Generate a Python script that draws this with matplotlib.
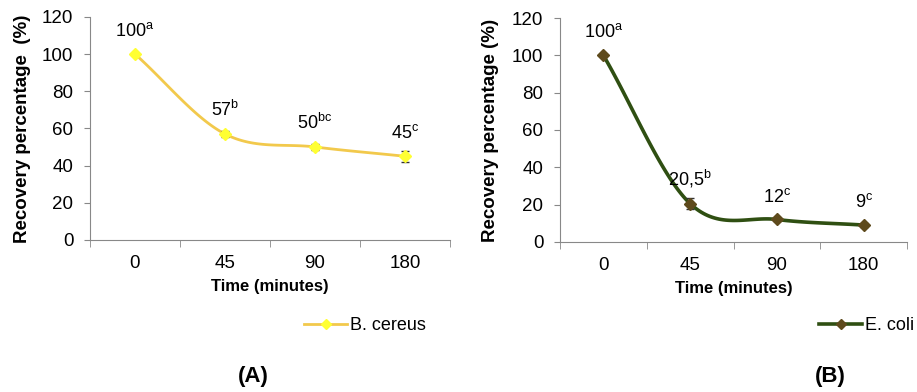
import matplotlib.pyplot as plt
import numpy as np

times = ["0", "45", "90", "180"]

cereus = [100, 57, 50, 45]
cereus_err = [0, 1.5, 1.5, 3]
cereus_lbl = ["100$^{\\mathrm{a}}$", "57$^{\\mathrm{b}}$",
              "50$^{\\mathrm{bc}}$", "45$^{\\mathrm{c}}$"]

coli = [100, 20.5, 12, 9]
coli_err = [0, 3, 1, 1]
coli_lbl = ["100$^{\\mathrm{a}}$", "20,5$^{\\mathrm{b}}$",
            "12$^{\\mathrm{c}}$", "9$^{\\mathrm{c}}$"]

plt.rcParams['font.family'] = ['Liberation Sans', 'DejaVu Sans']
plt.rcParams['mathtext.fontset'] = 'custom'
plt.rcParams['mathtext.rm'] = 'Liberation Sans'


def smooth(xs, ys, n=40):
    # Catmull-Rom curve like the Excel "smoothed line"
    xs = np.asarray(xs, float)
    ys = np.asarray(ys, float)
    px = np.concatenate([[2 * xs[0] - xs[1]], xs, [2 * xs[-1] - xs[-2]]])
    py = np.concatenate([[2 * ys[0] - ys[1]], ys, [2 * ys[-1] - ys[-2]]])
    out_x, out_y = [], []
    t = np.linspace(0, 1, n)
    for i in range(1, len(px) - 2):
        for p, o in ((px, out_x), (py, out_y)):
            p0, p1, p2, p3 = p[i - 1], p[i], p[i + 1], p[i + 2]
            c1 = p1 + (p2 - p0) / 6
            c2 = p2 - (p3 - p1) / 6
            o.extend((1 - t) ** 3 * p1 + 3 * (1 - t) ** 2 * t * c1
                     + 3 * (1 - t) * t ** 2 * c2 + t ** 3 * p2)
    return out_x, out_y


def panel(ax, vals, errs, lbls, line_col, mk_col, lw, name, ylab, leg_pos):
    x = np.arange(len(times))
    sx, sy = smooth(x, vals)
    ax.plot(sx, sy, color=line_col, lw=lw, zorder=2)
    ax.errorbar(x, vals, yerr=errs, fmt='none', ecolor='#333333',
                elinewidth=0.8, capsize=3, zorder=3)
    ax.plot(x, vals, ls='none', marker='D', ms=6, color=mk_col,
            mec=mk_col, zorder=4)
    h, = ax.plot([], [], color=line_col, lw=lw, marker='D', ms=5,
                 mfc=mk_col, mec=mk_col)
    for xi, v, l in zip(x, vals, lbls):
        ax.annotate(l, (xi, v), xytext=(0, 10), textcoords='offset points',
                    ha='center', va='bottom', fontsize=13)
    ax.set_xlim(-0.5, len(times) - 0.5)
    ax.set_ylim(0, 120)
    ax.set_yticks(range(0, 121, 20))
    ax.set_xticks(x)
    ax.set_xticklabels(times)
    ax.set_xticks(np.arange(-0.5, len(times)), minor=True)
    ax.tick_params(axis='x', which='major', length=0, pad=11, labelsize=13.5)
    ax.tick_params(axis='x', which='minor', length=5, color='#888888')
    ax.tick_params(axis='y', length=4, color='#888888', labelsize=13.5, pad=8)
    for s in ('top', 'right'):
        ax.spines[s].set_visible(False)
    for s in ('left', 'bottom'):
        ax.spines[s].set_color('#888888')
    ax.set_xlabel("Time (minutes)", fontweight='bold', fontsize=12,
                  labelpad=5)
    ax.set_ylabel(ylab, fontweight='bold', fontsize=13.5)
    ax.figure.legend([h], [name], loc='center', bbox_to_anchor=leg_pos,
                     frameon=False, fontsize=13, handlelength=2.4,
                     handletextpad=0.15)


fig = plt.figure(figsize=(9.17, 3.92), dpi=100)
ax1 = fig.add_axes([0.0981, 0.388, 0.3926, 0.569])
ax2 = fig.add_axes([0.6107, 0.383, 0.3784, 0.571])

panel(ax1, cereus, cereus_err, cereus_lbl, '#f2c94c', '#ffff33', 2.0,
      "B. cereus", "Recovery percentage  (%)", (0.398, 0.17))
panel(ax2, coli, coli_err, coli_lbl, '#2f4f12', '#5e4a1c', 2.6,
      "E. coli", "Recovery percentage (%)", (0.945, 0.17))

ax1.yaxis.set_label_coords(-0.165, 0.5)
ax2.yaxis.set_label_coords(-0.175, 0.5)

fig.text(0.276, 0.025, "(A)", fontweight='bold', fontsize=16, ha='center')
fig.text(0.905, 0.025, "(B)", fontweight='bold', fontsize=16, ha='center')

fig.savefig("out.png", dpi=100)
